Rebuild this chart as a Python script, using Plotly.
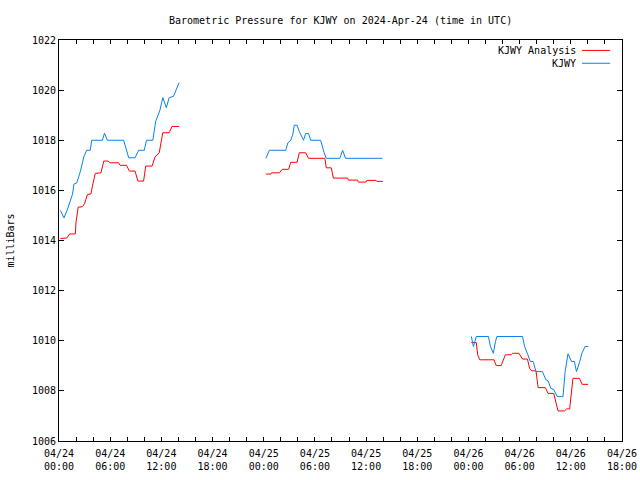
import plotly.graph_objects as go

# ---- data ----
analysis_times = [
    "2024-04-24 00:10", "2024-04-24 00:55", "2024-04-24 01:15", "2024-04-24 01:55",
    "2024-04-24 02:00", "2024-04-24 02:15", "2024-04-24 02:45", "2024-04-24 03:00",
    "2024-04-24 03:20", "2024-04-24 03:45", "2024-04-24 03:55", "2024-04-24 04:15",
    "2024-04-24 04:55", "2024-04-24 05:15", "2024-04-24 05:45", "2024-04-24 06:00",
    "2024-04-24 07:00", "2024-04-24 07:10", "2024-04-24 07:55", "2024-04-24 08:15",
    "2024-04-24 08:55", "2024-04-24 09:15", "2024-04-24 09:55", "2024-04-24 10:10",
    "2024-04-24 10:55", "2024-04-24 11:15", "2024-04-24 11:45", "2024-04-24 12:05",
    "2024-04-24 12:10", "2024-04-24 12:55", "2024-04-24 13:15", "2024-04-24 14:05",
    "2024-04-24 18:00",
    "2024-04-25 00:15", "2024-04-25 00:50", "2024-04-25 00:55", "2024-04-25 01:50",
    "2024-04-25 02:10", "2024-04-25 02:55", "2024-04-25 03:10", "2024-04-25 03:55",
    "2024-04-25 04:10", "2024-04-25 04:55", "2024-04-25 05:15", "2024-04-25 07:10",
    "2024-04-25 07:20", "2024-04-25 07:55", "2024-04-25 08:10", "2024-04-25 09:50",
    "2024-04-25 09:55", "2024-04-25 11:00", "2024-04-25 11:05", "2024-04-25 12:00",
    "2024-04-25 12:05", "2024-04-25 13:10", "2024-04-25 13:15", "2024-04-25 13:58",
    "2024-04-25 18:00",
    "2024-04-26 00:20", "2024-04-26 00:55", "2024-04-26 01:05", "2024-04-26 01:20",
    "2024-04-26 03:00", "2024-04-26 03:15", "2024-04-26 03:50", "2024-04-26 04:20",
    "2024-04-26 05:00", "2024-04-26 05:10", "2024-04-26 05:55", "2024-04-26 06:20",
    "2024-04-26 06:55", "2024-04-26 07:10", "2024-04-26 07:25", "2024-04-26 07:55",
    "2024-04-26 08:10", "2024-04-26 09:00", "2024-04-26 09:20", "2024-04-26 10:00",
    "2024-04-26 10:30", "2024-04-26 11:15", "2024-04-26 11:30", "2024-04-26 11:52",
    "2024-04-26 12:15", "2024-04-26 13:00", "2024-04-26 13:20", "2024-04-26 14:02",
]
analysis_values = [
    1014.08, 1014.10, 1014.26, 1014.26,
    1014.74, 1015.33, 1015.35, 1015.47,
    1015.84, 1015.86, 1016.17, 1016.68,
    1016.70, 1017.17, 1017.17, 1017.10,
    1017.10, 1017.00, 1017.00, 1016.77,
    1016.77, 1016.37, 1016.37, 1016.97,
    1016.97, 1017.33, 1017.50, 1018.10,
    1018.30, 1018.30, 1018.55, 1018.55,
    None,
    1016.65, 1016.65, 1016.70, 1016.70,
    1016.84, 1016.84, 1017.12, 1017.12,
    1017.50, 1017.50, 1017.28, 1017.28,
    1016.90, 1016.90, 1016.49, 1016.49,
    1016.41, 1016.41, 1016.33, 1016.33,
    1016.40, 1016.40, 1016.36, 1016.36,
    None,
    1009.93, 1009.93, 1009.44, 1009.24,
    1009.24, 1009.01, 1009.01, 1009.44,
    1009.44, 1009.50, 1009.50, 1009.27,
    1009.27, 1008.90, 1008.80, 1008.80,
    1008.13, 1008.13, 1007.90, 1007.90,
    1007.20, 1007.20, 1007.28, 1007.28,
    1008.50, 1008.50, 1008.26, 1008.26,
]

obs_times = [
    "2024-04-24 00:10", "2024-04-24 00:35", "2024-04-24 01:00", "2024-04-24 01:20",
    "2024-04-24 01:35", "2024-04-24 01:45", "2024-04-24 02:05", "2024-04-24 02:30",
    "2024-04-24 02:55", "2024-04-24 03:15", "2024-04-24 03:40", "2024-04-24 03:50",
    "2024-04-24 05:05", "2024-04-24 05:20", "2024-04-24 05:40", "2024-04-24 07:35",
    "2024-04-24 08:10", "2024-04-24 08:55", "2024-04-24 09:20", "2024-04-24 10:00",
    "2024-04-24 10:15", "2024-04-24 11:00", "2024-04-24 11:20", "2024-04-24 11:50",
    "2024-04-24 12:10", "2024-04-24 12:35", "2024-04-24 12:55", "2024-04-24 13:25",
    "2024-04-24 13:50", "2024-04-24 14:05",
    "2024-04-24 18:00",
    "2024-04-25 00:15", "2024-04-25 00:40", "2024-04-25 02:35", "2024-04-25 02:50",
    "2024-04-25 03:10", "2024-04-25 03:25", "2024-04-25 03:35", "2024-04-25 03:55",
    "2024-04-25 04:10", "2024-04-25 04:40", "2024-04-25 04:55", "2024-04-25 05:15",
    "2024-04-25 05:30", "2024-04-25 06:40", "2024-04-25 07:05", "2024-04-25 07:20",
    "2024-04-25 08:55", "2024-04-25 09:15", "2024-04-25 09:35", "2024-04-25 13:55",
    "2024-04-25 18:00",
    "2024-04-26 00:20", "2024-04-26 00:35", "2024-04-26 00:55", "2024-04-26 02:20",
    "2024-04-26 02:35", "2024-04-26 02:55", "2024-04-26 03:10", "2024-04-26 03:20",
    "2024-04-26 06:20", "2024-04-26 06:35", "2024-04-26 06:58", "2024-04-26 07:15",
    "2024-04-26 07:35", "2024-04-26 07:55", "2024-04-26 08:40", "2024-04-26 09:05",
    "2024-04-26 09:20", "2024-04-26 09:40", "2024-04-26 10:00", "2024-04-26 10:25",
    "2024-04-26 11:05", "2024-04-26 11:20", "2024-04-26 11:40", "2024-04-26 12:05",
    "2024-04-26 12:25", "2024-04-26 12:40", "2024-04-26 13:03", "2024-04-26 13:18",
    "2024-04-26 13:40", "2024-04-26 14:02",
]
obs_values = [
    1015.20, 1014.90, 1015.25, 1015.60,
    1015.85, 1016.25, 1016.30, 1016.75,
    1017.35, 1017.60, 1017.60, 1018.00,
    1018.00, 1018.28, 1018.00, 1018.00,
    1017.30, 1017.30, 1017.60, 1017.60,
    1018.00, 1018.00, 1018.75, 1019.20,
    1019.70, 1019.30, 1019.70, 1019.75,
    1020.10, 1020.30,
    None,
    1017.28, 1017.60, 1017.60, 1017.90,
    1018.00, 1018.24, 1018.60, 1018.60,
    1018.35, 1018.00, 1018.27, 1018.27,
    1018.00, 1018.00, 1017.50, 1017.28,
    1017.28, 1017.60, 1017.28, 1017.28,
    None,
    1010.17, 1009.77, 1010.17, 1010.17,
    1009.77, 1009.50, 1009.97, 1010.17,
    1010.17, 1009.77, 1009.44, 1009.17,
    1009.17, 1008.77, 1008.77, 1008.44,
    1008.40, 1008.10, 1008.05, 1007.77,
    1007.77, 1008.77, 1009.48, 1009.17,
    1009.17, 1008.77, 1009.17, 1009.50,
    1009.77, 1009.77,
]

series_names = ["KJWY Analysis", "KJWY"]
series_colors = ["#ff0000", "#0a80f0"]
x_range = ["2024-04-24 00:00", "2024-04-26 18:00"]
y_range = [1006, 1022]
title_text = "Barometric Pressure for KJWY on 2024-Apr-24 (time in UTC)"
y_title = "milliBars"

FONT = "DejaVu Sans Mono"

fig = go.Figure()
fig.add_trace(go.Scatter(x=analysis_times, y=analysis_values, mode="lines",
                         name=series_names[0],
                         line=dict(color=series_colors[0], width=1)))
fig.add_trace(go.Scatter(x=obs_times, y=obs_values, mode="lines",
                         name=series_names[1],
                         line=dict(color=series_colors[1], width=1)))

fig.update_layout(
    width=640, height=480,
    margin=dict(l=59, r=18, t=40, b=39),
    paper_bgcolor="white", plot_bgcolor="white",
    showlegend=False,
    font=dict(family=FONT, size=10, color="black"),
)

fig.update_xaxes(
    type="date", range=x_range, automargin=False,
    dtick=6 * 3600000, tick0="2024-04-24 00:00",
    tickformat="%m/%d<br>%H:%M",
    ticks="inside", ticklen=4, tickcolor="black", tickwidth=1,
    ticklabelstandoff=3,
    minor=dict(dtick=2 * 3600000, ticks="inside", ticklen=4, tickcolor="black"),
    showline=True, linecolor="black", linewidth=1, mirror="ticks",
    showgrid=False, zeroline=False,
    tickfont=dict(family=FONT, size=10),
)
fig.update_yaxes(
    range=y_range, dtick=2, tick0=1006, automargin=False,
    ticks="inside", ticklen=5, tickcolor="black", tickwidth=1,
    showline=True, linecolor="black", linewidth=1, mirror="ticks",
    showgrid=False, zeroline=False,
    tickfont=dict(family=FONT, size=10),
    title=dict(text=y_title, font=dict(family=FONT, size=10), standoff=15),
)

# title
fig.add_annotation(text=title_text, xref="paper", yref="paper", x=0.5, y=1.0,
                   yshift=20, showarrow=False, xanchor="center", yanchor="middle",
                   font=dict(family=FONT, size=10))

# legend (text right-aligned, sample line on the right, gnuplot style)
leg_y = [0.974, 0.942]
for name, color, ly in zip(series_names, series_colors, leg_y):
    fig.add_annotation(text=name, xref="paper", yref="paper", x=0.922, y=ly,
                       showarrow=False, xanchor="right", yanchor="middle",
                       font=dict(family=FONT, size=10))
    fig.add_shape(type="line", xref="paper", yref="paper",
                  x0=0.929, x1=0.979, y0=ly, y1=ly,
                  line=dict(color=color, width=1))

fig.write_html("out.html",
               config={"displayModeBar": False},
               post_script="document.body.style.margin='0';document.body.style.overflow='hidden';")
